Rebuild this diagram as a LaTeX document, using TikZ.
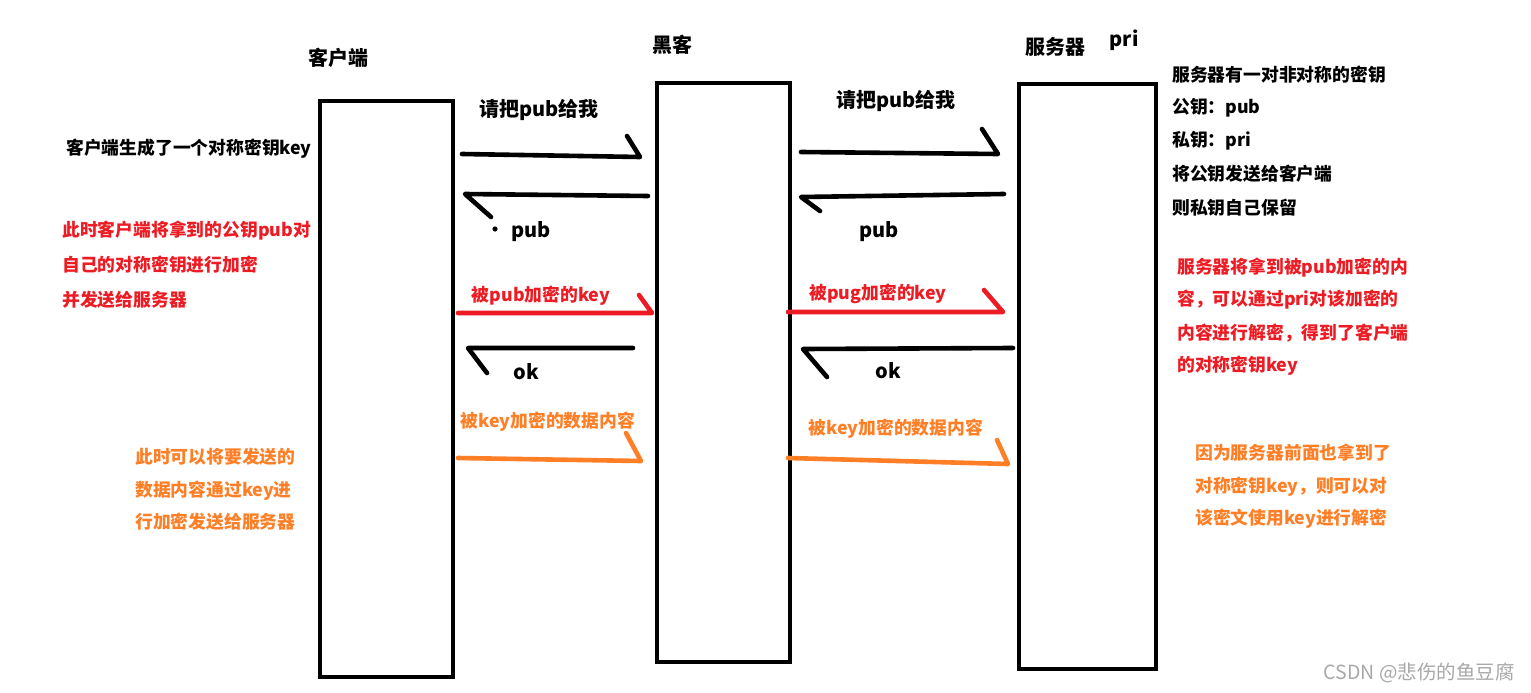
\documentclass[tikz,border=0pt]{standalone}
\usepackage{fontspec}
\setmainfont{Noto Sans CJK SC}
\definecolor{pred}{HTML}{ED1C24}
\definecolor{porange}{HTML}{FF7F27}
\definecolor{wm}{HTML}{A8A8A8}
\tikzset{
  lifeline/.style={draw=black,line width=4pt},
  pen/.style={line width=4.6pt,line cap=round,line join=round},
  title/.style={inner sep=0pt,font=\fontsize{20}{23}\selectfont\bfseries},
  big/.style={inner sep=0pt,font=\fontsize{20}{23}\selectfont\bfseries},
  lbl/.style={inner sep=0pt,font=\fontsize{17.8}{21}\selectfont\bfseries},
  txt/.style={inner sep=0pt,anchor=west,font=\fontsize{17.8}{21}\selectfont\bfseries},
}
\begin{document}
\begin{tikzpicture}[x=1pt,y=-1pt]
\useasboundingbox[fill=white] (0,0) rectangle (1531,693);
% lifelines
\node[lifeline,minimum width=133pt,minimum height=576pt,inner sep=0pt] (client) at (386.5,389) {};
\node[lifeline,minimum width=133pt,minimum height=579pt,inner sep=0pt] (hacker) at (723.5,372.5) {};
\node[lifeline,minimum width=137pt,minimum height=585pt,inner sep=0pt] (server) at (1087.5,376.5) {};
% titles
\node[title] (tclient) at (338,58) {客户端};
\node[title] (thacker) at (672,45) {黑客};
\node[title] (tserver) at (1055,47) {服务器};
\node[title] (tpri) at (1124,40) {pri};
% coordinates of arrows (left)
\coordinate (l1s) at (462,154); \coordinate (l1e) at (640,157); \coordinate (l1h) at (627,136);
\coordinate (l2s) at (648,196); \coordinate (l2e) at (465,194); \coordinate (l2h) at (491,217);
\coordinate (l3s) at (458,313); \coordinate (l3e) at (652,313); \coordinate (l3h) at (639,295);
\coordinate (l4s) at (633,348); \coordinate (l4e) at (468,348); \coordinate (l4h) at (487,373);
\coordinate (l5s) at (458,458); \coordinate (l5e) at (641,461); \coordinate (l5h) at (626,433);
% coordinates of arrows (right)
\coordinate (r1s) at (801,152); \coordinate (r1e) at (998,154); \coordinate (r1h) at (982,129);
\coordinate (r2s) at (1004,194); \coordinate (r2e) at (801,197); \coordinate (r2h) at (820,211);
\coordinate (r3s) at (788,312); \coordinate (r3e) at (1003,312); \coordinate (r3h) at (984,290);
\coordinate (r4s) at (1013,348); \coordinate (r4e) at (803,349); \coordinate (r4h) at (827,377);
\coordinate (r5s) at (788,458); \coordinate (r5e) at (1008,464); \coordinate (r5h) at (997,440);
% arrows
\draw[pen] (l1s) -- (l1e) -- (l1h);
\draw[pen] (l2s) -- (l2e) -- (l2h);
\fill (495,229) circle (2.6pt);
\draw[pen,pred] (l3s) -- (l3e) -- (l3h);
\draw[pen] (l4s) -- (l4e) -- (l4h);
\draw[pen,porange] (l5s) -- (l5e) -- (l5h);
\draw[pen] (r1s) -- (r1e) -- (r1h);
\draw[pen] (r2s) -- (r2e) -- (r2h);
\draw[pen,pred] (r3s) -- (r3e) -- (r3h);
\draw[pen] (r4s) -- (r4e) -- (r4h);
\draw[pen,porange] (r5s) -- (r5e) -- (r5h);
% arrow labels
\node[big] (m1) at (539,110) {请把pub给我};
\node[big] (m2) at (531,232) {pub};
\node[lbl,pred] (m3) at (541,296) {被pub加密的key};
\node[big] (m4) at (526,372) {ok};
\node[lbl,porange] (m5) at (548,422) {被key加密的数据内容};
\node[big] (n1) at (896,101) {请把pub给我};
\node[big] (n2) at (879,232) {pub};
\node[lbl,pred] (n3) at (878,294) {被pug加密的key};
\node[big] (n4) at (888,371) {ok};
\node[lbl,porange] (n5) at (896,429) {被key加密的数据内容};
% left notes
\node[txt] (c1) at (66,149) {客户端生成了一个对称密钥key};
\node[txt,pred] (c2) at (62,231) {此时客户端将拿到的公钥pub对};
\node[txt,pred] (c3) at (62,265) {自己的对称密钥进行加密};
\node[txt,pred] (c4) at (62,300) {并发送给服务器};
\node[txt,porange] (c5) at (135,457) {此时可以将要发送的};
\node[txt,porange] (c6) at (135,491) {数据内容通过key进};
\node[txt,porange] (c7) at (135,522) {行加密发送给服务器};
% right notes
\node[txt] (s1) at (1172,75) {服务器有一对非对称的密钥};
\node[txt] (s2) at (1172,108) {公钥：pub};
\node[txt] (s3) at (1172,141) {私钥：pri};
\node[txt] (s4) at (1172,174) {将公钥发送给客户端};
\node[txt] (s5) at (1172,208) {则私钥自己保留};
\node[txt,pred] (s6) at (1177,268) {服务器将拿到被pub加密的内};
\node[txt,pred] (s7) at (1177,300) {容，可以通过pri对该加密的};
\node[txt,pred] (s8) at (1177,333) {内容进行解密，得到了客户端};
\node[txt,pred] (s9) at (1177,366) {的对称密钥key};
\node[txt,porange] (s10) at (1195,453) {因为服务器前面也拿到了};
\node[txt,porange] (s11) at (1195,487) {对称密钥key，则可以对};
\node[txt,porange] (s12) at (1195,519) {该密文使用key进行解密};
% watermark
\node[inner sep=0pt,anchor=east,text=wm,font=\fontsize{19.5}{22}\selectfont] (wmk) at (1515,673) {CSDN @悲伤的鱼豆腐};
\end{tikzpicture}
\end{document}
